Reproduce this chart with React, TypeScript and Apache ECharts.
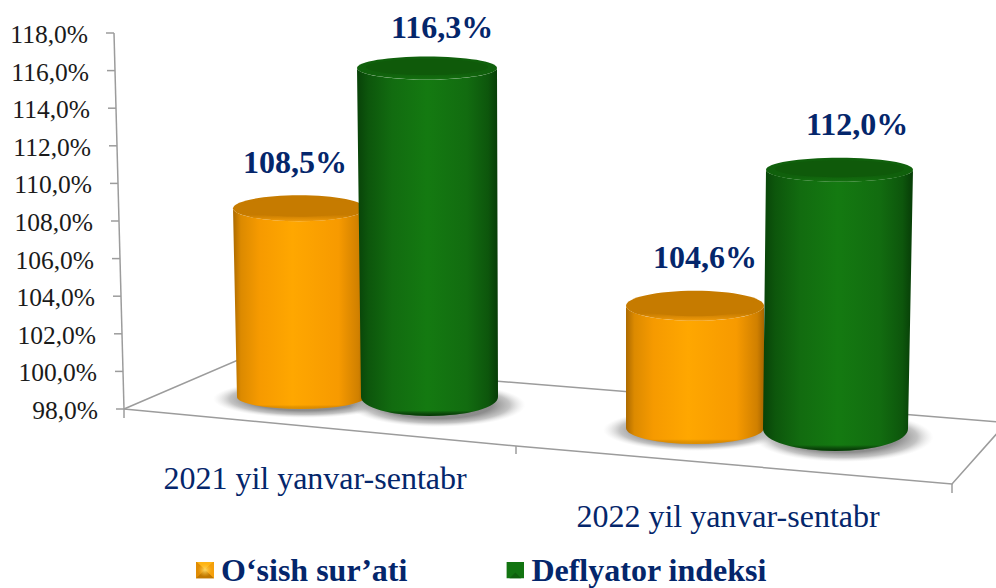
import React, { useEffect, useRef } from "react";
import * as echarts from "echarts";

const categories = ["2021 yil yanvar-sentabr", "2022 yil yanvar-sentabr"];
const seriesNames = ["O‘sish sur’ati", "Deflyator indeksi"];
const growthValues = [108.5, 104.6];
const deflatorValues = [116.3, 112.0];
const growthLabels = ["108,5%", "104,6%"];
const deflatorLabels = ["116,3%", "112,0%"];
const yTickValues = [98, 100, 102, 104, 106, 108, 110, 112, 114, 116, 118];
const yTickLabels = ["98,0%", "100,0%", "102,0%", "104,0%", "106,0%", "108,0%", "110,0%", "112,0%", "114,0%", "116,0%", "118,0%"];

const NAVY = "#04266B";
const SERIF = '"Liberation Serif", "Times New Roman", serif';
const AXIS_GREY = "#9C9C9C";

// perspective layout: [series][category], offsets from the category centre on the x axis
const layout = [
  [
    { topDx: -32, topHalf: 66, botDx: -30, botHalf: 64, baseDy: -12, ryTop: 13, ryBot: 12, k: 0.956, labelDx: -36, labelGap: 33, sdx: 4, srx: 92, sdy: 2, sry: 19 },
    { topDx: -50, topHalf: 69, botDx: -50, botHalf: 69, baseDy: 19, ryTop: 15, ryBot: 16, k: 0.985, labelDx: -40, labelGap: 34, sdx: 0, srx: 92, sdy: 2, sry: 21 },
  ],
  [
    { topDx: 96, topHalf: 70, botDx: 98.5, botHalf: 68.5, baseDy: -12, ryTop: 11.5, ryBot: 19, k: 0.956, labelDx: 111, labelGap: 30, sdx: 8, srx: 88, sdy: 8, sry: 22 },
    { topDx: 94.5, topHalf: 73.5, botDx: 90.5, botHalf: 72.5, baseDy: 20, ryTop: 12, ryBot: 22, k: 0.985, labelDx: 112, labelGap: 34, sdx: 8, srx: 90, sdy: 8, sry: 25 },
  ],
];

const palettes = [
  {
    side: [[0, "#AC6A00"], [0.06, "#DC8A00"], [0.2, "#F69A00"], [0.45, "#FFA700"], [0.8, "#F79A00"], [0.95, "#D08000"], [1, "#A86600"]],
    rimTop: "#C67B00",
    rimBottom: "#F09A0A",
    cap: "#C67B00",
    bottom: "rgba(150,90,0,0.3)",
  },
  {
    side: [[0, "#084208"], [0.08, "#0D560C"], [0.25, "#126C10"], [0.5, "#147A11"], [0.78, "#126C10"], [0.93, "#0D560C"], [1, "#073C07"]],
    rimTop: "#10600C",
    rimBottom: "#13700F",
    cap: "#0F5A0A",
    bottom: "rgba(0,35,0,0.8)",
  },
];

const stops = (list: any[]) => list.map(([offset, color]) => ({ offset, color }));

const svgIcon = (body: string) =>
  "image://data:image/svg+xml;charset=utf-8," +
  encodeURIComponent(`<svg xmlns="http://www.w3.org/2000/svg" width="18" height="17" viewBox="0 0 18 17">${body}</svg>`);

const orangeIcon = svgIcon(
  '<defs><radialGradient id="g" cx="50%" cy="50%" r="40%"><stop offset="0" stop-color="#FFE070" stop-opacity="0.9"/><stop offset="1" stop-color="#FFC030" stop-opacity="0"/></radialGradient></defs>' +
    '<rect width="18" height="17" fill="#C47A00"/>' +
    '<polygon points="0,0 18,0 9,8.5" fill="#FFB414"/>' +
    '<polygon points="0,0 0,17 9,8.5" fill="#E08C04"/>' +
    '<polygon points="18,0 18,17 9,8.5" fill="#F5A00C"/>' +
    '<polygon points="0,17 18,17 9,8.5" fill="#C07800"/>' +
    '<rect width="18" height="17" fill="url(#g)"/>'
);
const greenIcon = svgIcon(
  '<rect width="18" height="17" fill="#127411"/><polygon points="3,17 15,17 9,11" fill="#0E600C"/>'
);

const geometry = (api: any, s: number, cat: number, value: number) => {
  const l = layout[s][cat];
  const [cx, y0] = api.coord([cat, yTickValues[0]]);
  const [, yv] = api.coord([cat, value]);
  const base = y0 + l.baseDy;
  const top = base - (y0 - yv) * l.k;
  return {
    l,
    base,
    top,
    tcx: cx + l.topDx,
    bcx: cx + l.botDx,
    cx,
  };
};

const barRender = (s: number, labels: string[]) => (_params: any, api: any) => {
  const cat = api.value(0);
  const value = api.value(1);
  const { l, base, top, tcx, bcx, cx } = geometry(api, s, cat, value);
  const p = palettes[s];
  const tl = tcx - l.topHalf;
  const tr = tcx + l.topHalf;
  const bl = bcx - l.botHalf;
  const br = bcx + l.botHalf;
  const sideD = `M${tl} ${top}L${bl} ${base}A${l.botHalf} ${l.ryBot} 0 0 0 ${br} ${base}L${tr} ${top}A${l.topHalf} ${l.ryTop} 0 0 1 ${tl} ${top}Z`;
  const bandUp = 8;
  const bandD = `M${bl} ${base - bandUp}L${bl} ${base}A${l.botHalf} ${l.ryBot} 0 0 0 ${br} ${base}L${br} ${base - bandUp}A${l.botHalf} ${l.ryBot} 0 0 1 ${bl} ${base - bandUp}Z`;
  return {
    type: "group",
    children: [
      {
        type: "path",
        shape: { pathData: sideD },
        style: { fill: { type: "linear", x: 0, y: 0, x2: 1, y2: 0, colorStops: stops(p.side) } },
      },
      {
        type: "path",
        shape: { pathData: bandD },
        style: {
          fill: {
            type: "linear", x: 0, y: 0, x2: 0, y2: 1,
            colorStops: [
              { offset: 0, color: "rgba(0,0,0,0)" },
              { offset: 0.8, color: "rgba(0,0,0,0)" },
              { offset: 1, color: p.bottom },
            ],
          },
        },
      },
      {
        type: "ellipse",
        shape: { cx: tcx, cy: top, rx: l.topHalf, ry: l.ryTop },
        style: {
          fill: {
            type: "linear", x: 0, y: 0, x2: 0, y2: 1,
            colorStops: [
              { offset: 0, color: p.rimTop },
              { offset: 0.75, color: p.rimTop },
              { offset: 1, color: p.rimBottom },
            ],
          },
        },
      },
      {
        type: "ellipse",
        shape: { cx: tcx, cy: top - 1, rx: l.topHalf - 9, ry: l.ryTop - 3.5 },
        style: { fill: p.cap },
      },
      {
        type: "text",
        x: cx + l.labelDx,
        y: top - l.ryTop - l.labelGap,
        style: {
          text: labels[cat],
          fill: NAVY,
          font: `bold 32px ${SERIF}`,
          align: "center",
          verticalAlign: "middle",
        },
      },
    ],
  };
};

const shadowRender = (s: number, values: number[]) => (_params: any, api: any) => {
  const cat = api.value(0);
  const { l, base, bcx } = geometry(api, s, cat, values[cat]);
  return {
    type: "ellipse",
    shape: { cx: bcx + l.sdx, cy: base + l.sdy, rx: l.srx, ry: l.sry },
    style: {
      fill: {
        type: "radial", x: 0.5, y: 0.5, r: 0.5,
        colorStops: [
          { offset: 0, color: "rgba(130,130,130,1)" },
          { offset: 0.62, color: "rgba(135,135,135,0.95)" },
          { offset: 0.82, color: "rgba(170,170,170,0.7)" },
          { offset: 1, color: "rgba(220,220,220,0)" },
        ],
      },
    },
  };
};

// the value axis leans with the perspective of the plot
const axisXAt = (y: number) => 114 + ((y - 33) * 10) / 376;

const yAxisRender = (params: any, api: any) => {
  const [, y] = api.coord([0, api.value(1)]);
  const x = axisXAt(y);
  return {
    type: "group",
    children: [
      { type: "line", shape: { x1: x - 8, y1: y, x2: x, y2: y }, style: { stroke: AXIS_GREY, lineWidth: 1.5 } },
      {
        type: "text",
        x: x - 26,
        y: y + 1.5,
        style: {
          text: yTickLabels[params.dataIndex],
          fill: "#1A1A1A",
          font: `25.5px ${SERIF}`,
          align: "right",
          verticalAlign: "middle",
        },
      },
    ],
  };
};

const categoryLabelOffsets = [
  { dx: -16, y: 478 },
  { dx: -17, y: 516 },
];

const categoryRender = (_params: any, api: any) => {
  const cat = api.value(0);
  const [cx] = api.coord([cat, yTickValues[0]]);
  const o = categoryLabelOffsets[cat];
  return {
    type: "text",
    x: cx + o.dx,
    y: o.y,
    style: {
      text: categories[cat],
      fill: NAVY,
      font: `32px ${SERIF}`,
      align: "center",
      verticalAlign: "middle",
    },
  };
};

const greyLine = (points: number[][]) => ({
  type: "polyline",
  silent: true,
  z: 0,
  shape: { points },
  style: { stroke: AXIS_GREY, lineWidth: 1.5, fill: "none" },
});

export default function App() {
  const ref = useRef<HTMLDivElement>(null);
  useEffect(() => {
    document.body.style.margin = "0";
    document.body.style.overflow = "hidden";
    const chart = echarts.init(ref.current!, null, { renderer: "svg" });
    const points = (vals: number[]) => vals.map((v, i) => [i, v]);
    chart.setOption({
      animation: false,
      backgroundColor: "#FFFFFF",
      grid: { left: 124, right: 44, top: 33, bottom: 179 },
      xAxis: { type: "category", data: categories, show: false },
      yAxis: { type: "value", min: 98, max: 118, interval: 2, show: false },
      legend: {
        data: seriesNames.map((name, i) => ({ name, icon: i === 0 ? orangeIcon : greenIcon })),
        left: 196,
        top: 554,
        itemWidth: 18,
        itemHeight: 17,
        itemGap: 99,
        selectedMode: false,
        padding: 0,
        textStyle: {
          color: NAVY,
          fontFamily: SERIF,
          fontWeight: "bold",
          fontSize: 32,
          lineHeight: 30,
          padding: [0, 0, 0, 2],
        },
      },
      graphic: [
        greyLine([[114, 33], [124, 409]]),
        greyLine([[124, 409], [516, 446], [952, 484], [1000, 430]]),
        greyLine([[124, 409], [238, 360], [1000, 422]]),
        greyLine([[124, 409], [124, 418]]),
        greyLine([[516, 446], [516, 454]]),
        greyLine([[952, 484], [952, 493]]),
      ],
      series: [
        {
          type: "custom",
          name: "axis",
          z: 1,
          silent: true,
          clip: false,
          data: yTickValues.map((v) => [0, v]),
          encode: { x: 0, y: 1 },
          renderItem: yAxisRender,
        },
        {
          type: "custom",
          name: "categories",
          z: 1,
          silent: true,
          clip: false,
          data: categories.map((_, i) => [i, 98]),
          encode: { x: 0, y: 1 },
          renderItem: categoryRender,
        },
        {
          type: "custom",
          name: "shadow-growth",
          z: 2,
          silent: true,
          clip: false,
          data: points(growthValues),
          encode: { x: 0, y: 1 },
          renderItem: shadowRender(0, growthValues),
        },
        {
          type: "custom",
          name: "shadow-deflator",
          z: 2,
          silent: true,
          clip: false,
          data: points(deflatorValues),
          encode: { x: 0, y: 1 },
          renderItem: shadowRender(1, deflatorValues),
        },
        {
          type: "custom",
          name: seriesNames[0],
          z: 3,
          clip: false,
          itemStyle: { color: "#F59C00" },
          data: points(growthValues),
          encode: { x: 0, y: 1 },
          renderItem: barRender(0, growthLabels),
        },
        {
          type: "custom",
          name: seriesNames[1],
          z: 4,
          clip: false,
          itemStyle: { color: "#127411" },
          data: points(deflatorValues),
          encode: { x: 0, y: 1 },
          renderItem: barRender(1, deflatorLabels),
        },
      ],
    });
    return () => chart.dispose();
  }, []);
  return <div ref={ref} style={{ width: 996, height: 588 }} />;
}
